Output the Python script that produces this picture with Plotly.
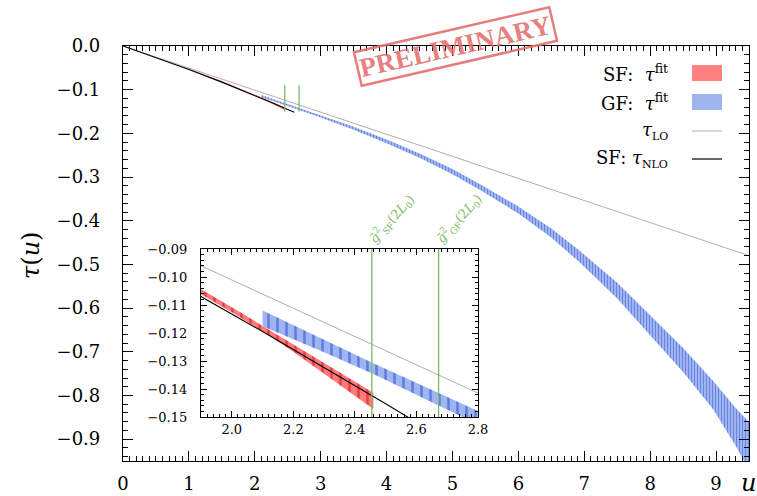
import plotly.graph_objects as go

# ---------------- data ----------------
lo_u = [0.0, 2.0, 4.0, 6.0, 8.0, 9.5]
lo_tau = [0.0, -0.101, -0.202, -0.303, -0.404, -0.480]

nlo_u = [0.0, 0.5, 1.0, 1.5, 1.9, 2.1, 2.3, 2.5, 2.6]
nlo_tau = [0.0, -0.0261, -0.0536, -0.0827, -0.1070, -0.1195, -0.1323, -0.1453, -0.1519]

sf_u = [0.0, 0.5, 1.0, 1.5, 1.9, 2.0, 2.1, 2.2, 2.3, 2.4, 2.46]
sf_hi = [0.0, -0.0254, -0.0521, -0.0802, -0.1044, -0.1108, -0.1174, -0.1239, -0.1305, -0.1372, -0.1413]
sf_lo = [0.0, -0.0262, -0.0535, -0.0822, -0.1062, -0.1126, -0.1194, -0.1267, -0.1345, -0.1424, -0.1471]

gf_u = [2.1, 2.3, 2.46, 2.67, 2.8, 3.0, 3.5, 4.0, 4.5, 5.0, 5.42, 6.0, 6.5, 6.93, 7.5, 7.95, 8.5, 8.96, 9.3, 9.5]
gf_hi = [-0.1120, -0.1225, -0.1308, -0.1413, -0.1477, -0.1579, -0.1850, -0.2141, -0.2460, -0.2817,
         -0.3166, -0.3675, -0.4175, -0.4687, -0.542, -0.609, -0.6915, -0.7675, -0.8295, -0.861]
gf_lo = [-0.1176, -0.1269, -0.1346, -0.1457, -0.1527, -0.1635, -0.1920, -0.2225, -0.2560, -0.2933,
         -0.3296, -0.3835, -0.4385, -0.4953, -0.578, -0.654, -0.7465, -0.8325, -0.9155, -0.971]

g_sf_u = 2.455     # position of g^2_SF(2L0)
g_gf_u = 2.672     # position of g^2_GF(2L0)
g_tau = [-0.09, -0.15]

x_ticks_main = [0, 1, 2, 3, 4, 5, 6, 7, 8, 9]
x_ticks_inset = [2.0, 2.2, 2.4, 2.6, 2.8]

# ---------------- styling ----------------
FONT = "DejaVu Serif"
RED_BG, RED_FG = "rgb(255,122,122)", "rgb(236,62,62)"
BLUE_BG, BLUE_FG = "rgb(160,181,240)", "rgb(92,124,226)"
GREY = "rgb(175,175,175)"
GREEN = "rgb(122,186,102)"

fig = go.Figure()


def band(u, hi, lo, bg, fg, size, xa, ya):
    fig.add_trace(go.Scatter(
        x=list(u) + list(u)[::-1], y=list(hi) + list(lo)[::-1],
        fill="toself", mode="lines", line=dict(width=0, color=bg),
        fillcolor=bg,
        fillpattern=dict(shape="|", size=size, solidity=0.28, fgcolor=fg,
                         bgcolor=bg, fillmode="replace"),
        xaxis=xa, yaxis=ya, showlegend=False, hoverinfo="skip"))


def line(u, t, color, width, xa, ya):
    fig.add_trace(go.Scatter(x=u, y=t, mode="lines", line=dict(color=color, width=width),
                             xaxis=xa, yaxis=ya, showlegend=False, hoverinfo="skip"))


for xa, ya, psize in (("x", "y", 3), ("x2", "y2", 9)):
    line(lo_u, lo_tau, GREY, 1, xa, ya)
    band(gf_u, gf_hi, gf_lo, BLUE_BG, BLUE_FG, psize, xa, ya)
    band(sf_u, sf_hi, sf_lo, RED_BG, RED_FG, psize, xa, ya)
    line(nlo_u, nlo_tau, "black", 1.1, xa, ya)
    line([g_sf_u, g_sf_u], g_tau, GREEN, 1.3, xa, ya)
    line([g_gf_u, g_gf_u], g_tau, GREEN, 1.3, xa, ya)

common = dict(showline=True, linecolor="black", linewidth=1.2, mirror="ticks", ticks="inside",
              tickcolor="black", showgrid=False, zeroline=False, automargin=False)

L, R, T, B = 123, 8, 46, 35
W, H = 757, 496
pw, ph = W - L - R, H - T - B


def px(x):
    return (x - L) / pw


def py(y):
    return (H - B - y) / ph


fig.update_layout(
    width=W, height=H, margin=dict(l=L, r=R, t=T, b=B, autoexpand=False),
    plot_bgcolor="white", paper_bgcolor="white", showlegend=False,
    font=dict(family=FONT, color="black"),
    xaxis=dict(**common, range=[0, 9.5], tickvals=x_ticks_main, ticklen=10, tickwidth=1.2,
               minor=dict(dtick=0.1, tick0=0, ticklen=5, ticks="inside", tickcolor="black", tickwidth=1),
               tickfont=dict(family=FONT, size=18), ticklabelstandoff=6, domain=[0, 1], anchor="y"),
    yaxis=dict(**common, range=[-0.95, 0], dtick=0.1, tick0=0, tickformat=".1f", ticklen=10, tickwidth=1.2,
               minor=dict(dtick=0.02, tick0=0, ticklen=5, ticks="inside", tickcolor="black", tickwidth=1),
               tickfont=dict(family=FONT, size=18), ticklabelstandoff=18, domain=[0, 1], anchor="x"),
    xaxis2=dict(**common, range=[1.9, 2.8], tickvals=x_ticks_inset, tickformat=".1f", ticklen=6, tickwidth=1,
                minor=dict(dtick=0.02, tick0=1.9, ticklen=3, ticks="inside", tickcolor="black", tickwidth=1),
                tickfont=dict(family=FONT, size=13),
                domain=[px(201), px(478)], anchor="y2"),
    yaxis2=dict(**common, range=[-0.15, -0.09], dtick=0.01, tick0=-0.15, tickformat=".2f", ticklen=6, tickwidth=1,
                minor=dict(dtick=0.002, tick0=-0.15, ticklen=3, ticks="inside", tickcolor="black", tickwidth=1),
                tickfont=dict(family=FONT, size=13), ticklabelstandoff=10,
                domain=[py(417), py(249)], anchor="x2"),
)

shapes = [
    dict(type="rect", xref="x2 domain", yref="y2 domain", x0=0, x1=1, y0=0, y1=1,
         fillcolor="white", line=dict(width=0), layer="below"),
    # legend keys
    dict(type="rect", xref="paper", yref="paper", x0=px(692), x1=px(722), y0=py(81), y1=py(65),
         fillcolor="rgb(255,128,128)", line=dict(width=0)),
    dict(type="rect", xref="paper", yref="paper", x0=px(692), x1=px(722), y0=py(110), y1=py(94),
         fillcolor="rgb(160,181,240)", line=dict(width=0)),
    dict(type="line", xref="paper", yref="paper", x0=px(692), x1=px(722), y0=py(131), y1=py(131),
         line=dict(color=GREY, width=1)),
    dict(type="line", xref="paper", yref="paper", x0=px(692), x1=px(722), y0=py(159), y1=py(159),
         line=dict(color="black", width=1.2)),
]
fig.update_layout(shapes=shapes)

lo_sub = "<span style='font-size:11px'>LO</span>"
nlo_sub = "<span style='font-size:11px'>NLO</span>"
legend_rows = [
    ("SF:\u00a0\u00a0<i>τ</i><sup>fit</sup>", 73),
    ("GF:\u00a0\u00a0<i>τ</i><sup>fit</sup>", 102),
    ("<i>τ</i><sub>" + lo_sub + "</sub>", 131),
    ("SF: <i>τ</i><sub>" + nlo_sub + "</sub>", 159),
]
ann = []
for txt, yy in legend_rows:
    ann.append(dict(text=txt, xref="paper", yref="paper", x=px(670), y=py(yy), xanchor="right",
                    yanchor="middle", showarrow=False, font=dict(family=FONT, size=18)))

ann += [
    dict(text="<i>τ</i>(<i>u</i>)", xref="paper", yref="paper", x=px(31), y=py(255), textangle=-90,
         xanchor="center", yanchor="middle", showarrow=False, font=dict(family=FONT, size=24)),
    dict(text="<i>u</i>", xref="paper", yref="paper", x=px(748), y=py(483),
         xanchor="center", yanchor="middle", showarrow=False, font=dict(family=FONT, size=24)),
    dict(text="<i>ḡ</i><sup>2</sup><sub>SF</sub>(2<i>L</i><sub>0</sub>)", xref="paper", yref="paper",
         x=px(362), y=py(250), xanchor="left", yanchor="bottom", textangle=-48, showarrow=False,
         font=dict(family=FONT, size=13, color=GREEN)),
    dict(text="<i>ḡ</i><sup>2</sup><sub>GF</sub>(2<i>L</i><sub>0</sub>)", xref="paper", yref="paper",
         x=px(430), y=py(250), xanchor="left", yanchor="bottom", textangle=-48, showarrow=False,
         font=dict(family=FONT, size=13, color=GREEN)),
    dict(text="<b>PRELIMINARY</b>", xref="paper", yref="paper", x=px(455.5), y=py(46.5),
         xanchor="center", yanchor="middle", textangle=-13, showarrow=False,
         font=dict(family="Liberation Serif", size=27, color="rgba(230,110,110,0.9)"),
         bordercolor="rgba(230,110,110,0.9)", borderwidth=2.5, borderpad=1),
]
fig.update_layout(annotations=ann)

fig.write_html("out.html", config={"displayModeBar": False},
               post_script="document.body.style.margin='0';")
